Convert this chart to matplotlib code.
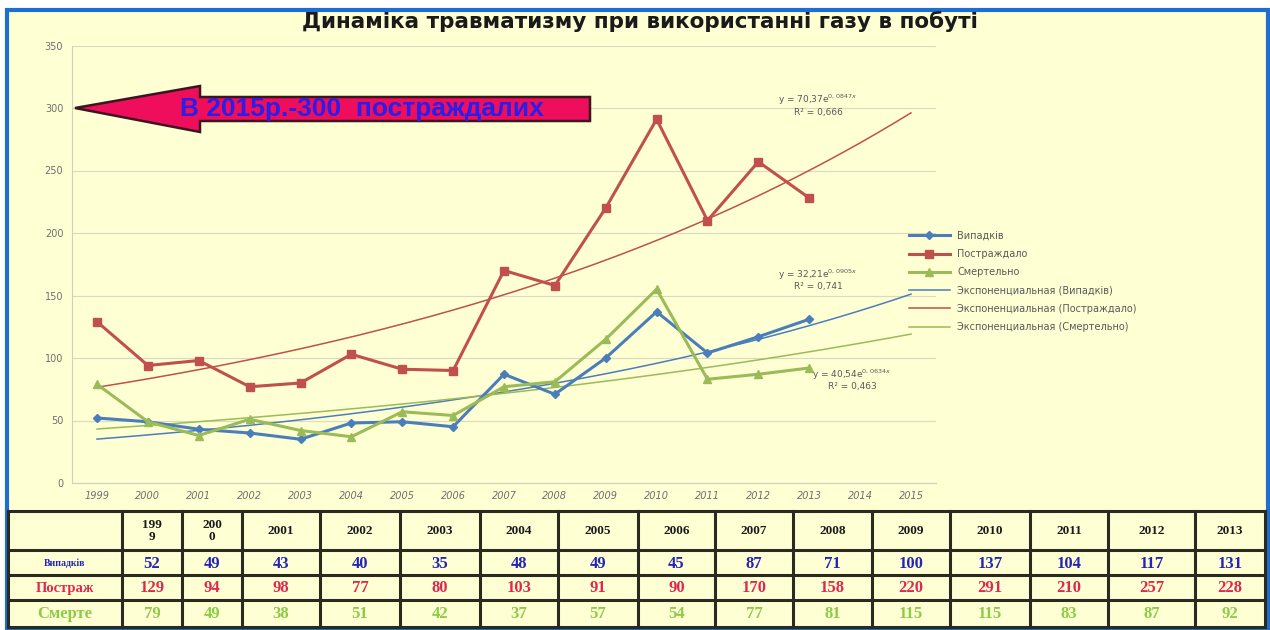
import numpy as np
import matplotlib
matplotlib.use('Agg')
import matplotlib.pyplot as plt
from matplotlib.patches import Polygon, Rectangle

# data
years = [1999, 2000, 2001, 2002, 2003, 2004, 2005, 2006, 2007, 2008, 2009, 2010, 2011, 2012, 2013, 2014, 2015]
cases = [52, 49, 43, 40, 35, 48, 49, 45, 87, 71, 100, 137, 104, 117, 131]
injured = [129, 94, 98, 77, 80, 103, 91, 90, 170, 158, 220, 291, 210, 257, 228]
fatal = [79, 49, 38, 51, 42, 37, 57, 54, 77, 81, 115, 155, 83, 87, 92]

# table under the chart (its 2010 value differs from the plotted one)
table_head = ['199\n9', '200\n0', '2001', '2002', '2003', '2004', '2005', '2006',
              '2007', '2008', '2009', '2010', '2011', '2012', '2013']
table_cases = [52, 49, 43, 40, 35, 48, 49, 45, 87, 71, 100, 137, 104, 117, 131]
table_injured = [129, 94, 98, 77, 80, 103, 91, 90, 170, 158, 220, 291, 210, 257, 228]
table_fatal = [79, 49, 38, 51, 42, 37, 57, 54, 77, 81, 115, 115, 83, 87, 92]
row_names = ['Випадків', 'Постраж', 'Смерте']

series_names = ['Випадків', 'Постраждало', 'Смертельно']
trend_names = ['Экспоненциальная (Випадків)', 'Экспоненциальная (Постраждало)',
               'Экспоненциальная (Смертельно)']
eq_labels = [('y = 32,21e$^{0,0905x}$', 'R² = 0,741'),
             ('y = 70,37e$^{0,0847x}$', 'R² = 0,666'),
             ('y = 40,54e$^{0,0634x}$', 'R² = 0,463')]

W, H = 1270, 630
bg = '#FFFFD4'
c_blue, c_red, c_green = '#4A7EBB', '#C0504D', '#9BBB59'
t_blue, t_red, t_green = '#2424B8', '#E0284E', '#8CCB48'

fig = plt.figure(figsize=(12.7, 6.3), dpi=100)
fig.patch.set_facecolor('white')

# background panel + table (pixel coordinates)
ov = fig.add_axes([0, 0, 1, 1])
ov.set_xlim(0, W)
ov.set_ylim(H, 0)
ov.axis('off')
ov.add_patch(Rectangle((7, 10), W - 9, H - 10, facecolor=bg, edgecolor='#1C6FD0', lw=3))

# chart
ax = fig.add_axes([71.6 / W, (H - 483) / H, 864.8 / W, 437.5 / H])
ax.set_facecolor('none')
x_all = np.arange(len(years))
x_dat = np.arange(len(cases))

for vals, col, mk, ms, name in [(cases, c_blue, 'D', 4.5, series_names[0]),
                                (injured, c_red, 's', 6, series_names[1]),
                                (fatal, c_green, '^', 5.5, series_names[2])]:
    ax.plot(x_dat, vals, color=col, lw=2.2, marker=mk, ms=ms, label=name, zorder=3)

xs = np.linspace(0, len(years) - 1, 200)
for vals, col, name in [(cases, c_blue, trend_names[0]),
                        (injured, c_red, trend_names[1]),
                        (fatal, c_green, trend_names[2])]:
    k, b = np.polyfit(x_dat + 1, np.log(vals), 1)
    ax.plot(xs, np.exp(b) * np.exp(k * (xs + 1)), color=col, lw=1.1, label=name, zorder=2)

ax.set_xlim(-0.5, len(years) - 0.5)
ax.set_ylim(0, 350)
ax.set_yticks(range(0, 351, 50))
ax.set_xticks(x_all)
ax.set_xticklabels([str(y) for y in years])
ax.grid(axis='y', color='#DADAC0', lw=0.8)
ax.set_axisbelow(True)
for s in ['top', 'right']:
    ax.spines[s].set_visible(False)
for s in ['left', 'bottom']:
    ax.spines[s].set_color('#D0D0C0')
ax.tick_params(colors='#6F6F6F', labelsize=7, length=0, pad=6)
for lab in ax.get_xticklabels():
    lab.set_fontstyle('italic')

ax.legend(loc='upper left', bbox_to_anchor=(900 / W, 1 - 222 / H), bbox_transform=fig.transFigure,
          frameon=False, fontsize=7, handlelength=4.2, labelspacing=0.85, labelcolor='#595959')

fig.text(640 / W, 1 - 22 / H, 'Динаміка травматизму при використанні газу в побуті',
         ha='center', va='center', fontsize=15.5, fontweight='bold', color='#1A1A1A')

# top overlay: arrow and equation labels
top = fig.add_axes([0, 0, 1, 1], zorder=5)
top.set_xlim(0, W)
top.set_ylim(H, 0)
top.axis('off')
top.patch.set_alpha(0)
arrow = [(75, 108), (200, 86), (200, 97), (590, 97), (590, 121), (200, 121), (200, 132)]
top.add_patch(Polygon(arrow, closed=True, facecolor='#EE0E5C', edgecolor='#3A1620', lw=1.8))
top.text(362, 109, 'В 2015р.-300  постраждалих', ha='center', va='center',
         fontsize=19, fontweight='bold', color='#2A1EE8', family='Liberation Sans')

for (eq, r2), (ex, ey) in zip(eq_labels, [(818, 275), (818, 100), (852, 375)]):
    top.text(ex, ey, eq, ha='center', va='center', fontsize=6.5, color='#595959')
    top.text(ex, ey + 12, r2, ha='center', va='center', fontsize=6.5, color='#595959')

# table
col_edges = [8, 122, 182, 242, 320, 400, 480, 558, 638, 715, 793, 872, 950, 1030, 1108, 1195, 1265]
row_edges = [511, 550, 575, 600, 627]
for cx in col_edges:
    ov.plot([cx, cx], [row_edges[0], row_edges[-1]], color='#2A2A20', lw=2.2)
for ry in row_edges:
    ov.plot([col_edges[0], col_edges[-1]], [ry, ry], color='#2A2A20', lw=2.2)

serif = 'Liberation Serif'
mids = [(col_edges[i] + col_edges[i + 1]) / 2 for i in range(len(col_edges) - 1)]
rmid = [(row_edges[i] + row_edges[i + 1]) / 2 for i in range(len(row_edges) - 1)]
for cx, h in zip(mids[1:], table_head):
    ov.text(cx, rmid[0] + 1, h, ha='center', va='center', fontsize=9.5, fontweight='bold',
            family=serif, color='#1A1A1A', linespacing=1.0)
row_vals = [table_cases, table_injured, table_fatal]
row_cols = [t_blue, t_red, t_green]
row_fs = [7, 10.5, 12]
for r in range(3):
    ov.text(mids[0], rmid[r + 1] + 1, row_names[r], ha='center', va='center', fontsize=row_fs[r],
            fontweight='bold', family=serif, color=row_cols[r])
    for cx, v in zip(mids[1:], row_vals[r]):
        ov.text(cx, rmid[r + 1] + 1, str(v), ha='center', va='center', fontsize=12,
                fontweight='bold', family=serif, color=row_cols[r])

fig.savefig('out.png', dpi=100, facecolor=fig.get_facecolor())
